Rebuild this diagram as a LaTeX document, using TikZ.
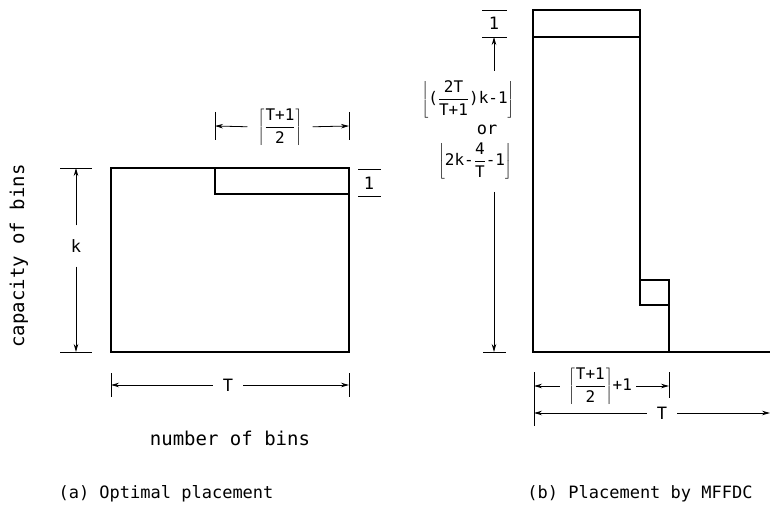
\documentclass[tikz,border=0pt]{standalone}
\usepackage{fontspec}
\setmainfont{DejaVu Sans Mono}
\usetikzlibrary{arrows.meta}
\newcommand{\fr}[2]{\frac{\mbox{#1}}{\mbox{#2}}}
\begin{document}
\begin{tikzpicture}[x=1pt,y=-1pt,
  box/.style={line width=1.7pt},
  dimline/.style={line width=0.8pt},
  dimarrow/.style={dimline,-{Stealth[length=8pt,width=4.5pt]}},
  lbl/.style={font=\fontsize{17}{19}\selectfont, inner sep=0pt},
  axlbl/.style={font=\fontsize{19}{21}\selectfont, inner sep=0pt},
  flbl/.style={font=\fontsize{16}{18}\selectfont, inner sep=0pt},
]
\useasboundingbox[fill=white] (0,0) rectangle (770,518);

% ---------------- (a) ----------------
\coordinate (A1) at (111,168);
\coordinate (A2) at (349,352);
\coordinate (B1) at (215,168);
\coordinate (B2) at (349,194);
\draw[box] (A1) rectangle (A2);
\draw[box] (B1) |- (B2);

% top dimension
\coordinate (tdL) at (215,126);
\coordinate (tdR) at (349,126);
\node[flbl] (tdlab) at (280,127) {$\displaystyle\left\lceil\fr{T+1}{2}\right\rceil$};
\draw[dimarrow, shorten <=10pt] (tdlab.west) -- (tdL);
\draw[dimarrow, shorten <=10pt] (tdlab.east) -- (tdR);
\draw[dimline] ([yshift=14pt]tdL) -- ([yshift=-14pt]tdL);
\draw[dimline] ([yshift=14pt]tdR) -- ([yshift=-14pt]tdR);

% "1" dimension
\coordinate (oT1) at (358,169);
\coordinate (oT2) at (381,169);
\coordinate (oB1) at (358,196);
\coordinate (oB2) at (381,196);
\draw[dimline] (oT1) -- (oT2);
\draw[dimline] (oB1) -- (oB2);
\node[lbl] (one) at (369,183) {1};

% k dimension
\coordinate (kT) at (76,168);
\coordinate (kB) at (76,352);
\node[lbl] (klab) at (76,246) {k};
\draw[dimarrow, shorten <=14pt] (klab.north) -- (kT);
\draw[dimarrow, shorten <=14pt] (klab.south) -- (kB);
\draw[dimline] ([xshift=-16pt]kT) -- ([xshift=16pt]kT);
\draw[dimline] ([xshift=-16pt]kB) -- ([xshift=16pt]kB);

\node[axlbl, rotate=90] (cap) at (19,256) {capacity of bins};

% T dimension
\coordinate (TL) at (111,385);
\coordinate (TR) at (349,385);
\node[lbl] (Tlab) at (228,385) {T};
\draw[dimarrow, shorten <=10pt] (Tlab.west) -- (TL);
\draw[dimarrow, shorten <=10pt] (Tlab.east) -- (TR);
\draw[dimline] ([yshift=12pt]TL) -- ([yshift=-12pt]TL);
\draw[dimline] ([yshift=12pt]TR) -- ([yshift=-12pt]TR);

\node[axlbl] (nob) at (230,438) {number of bins};
\node[lbl] (capa) at (166,494) {(a) Optimal placement};

% ---------------- (b) ----------------
\coordinate (R1) at (533,10);
\coordinate (R2) at (640,10);
\coordinate (R3) at (640,280);
\coordinate (R4) at (669,280);
\coordinate (R5) at (669,352);
\coordinate (R6) at (533,352);
\coordinate (R7) at (770,352);
\coordinate (L1) at (533,37);
\coordinate (L2) at (640,37);
\coordinate (S1) at (640,305);
\coordinate (S2) at (669,305);
\draw[box] (R3) -- (R2) -- (R1) -- (R6) -- (R7);
\draw[box] (L1) -- (L2);
\draw[box] (R3) -- (R4) -- (R5);
\draw[box] (R3) -- (S1) -- (S2);

% vertical dimension of (b)
\coordinate (vt1) at (482,10);
\coordinate (vt2) at (507,10);
\coordinate (vm1) at (482,37);
\coordinate (vm2) at (507,37);
\coordinate (vb1) at (483,352);
\coordinate (vb2) at (506,352);
\coordinate (vm) at (494,37);
\coordinate (vb) at (494,352);
\coordinate (va) at (494,71);
\coordinate (vc) at (494,192);
\draw[dimline] (vt1) -- (vt2);
\draw[dimline] (vm1) -- (vm2);
\draw[dimline] (vb1) -- (vb2);
\node[lbl] (one2) at (494,23) {1};
\draw[dimarrow] (va) -- (vm);
\draw[dimarrow] (vc) -- (vb);
\node[flbl] (f1) at (468,99) {$\displaystyle\left\lfloor\mbox{(}\fr{2T}{T+1}\mbox{)k-1}\right\rfloor$};
\node[lbl] (or) at (487,130) {or};
\node[flbl] (f2) at (475,161) {$\displaystyle\left\lfloor\mbox{2k-}\fr{4}{T}\mbox{-1}\right\rfloor$};

% bottom dimensions of (b)
\coordinate (d1L) at (534,386);
\coordinate (d1R) at (669,386);
\coordinate (d2L) at (534,413);
\coordinate (d2R) at (770,413);
\node[flbl] (d1lab) at (600,386) {$\displaystyle\left\lceil\fr{T+1}{2}\right\rceil$+1};
\draw[dimarrow, shorten <=8pt] (d1lab.west) -- (d1L);
\draw[dimarrow, shorten <=4pt] (d1lab.east) -- (d1R);
\draw[dimline] ([yshift=14pt]d1L) -- ([yshift=-40pt]d1L);
\draw[dimline] ([yshift=14pt]d1R) -- ([yshift=-12pt]d1R);
\node[lbl] (T2lab) at (662,413) {T};
\draw[dimarrow, shorten <=10pt] (T2lab.west) -- (d2L);
\draw[dimarrow, shorten <=10pt] (T2lab.east) -- (d2R);

\node[lbl] (capb) at (640,494) {(b) Placement by MFFDC};
\end{tikzpicture}
\end{document}
